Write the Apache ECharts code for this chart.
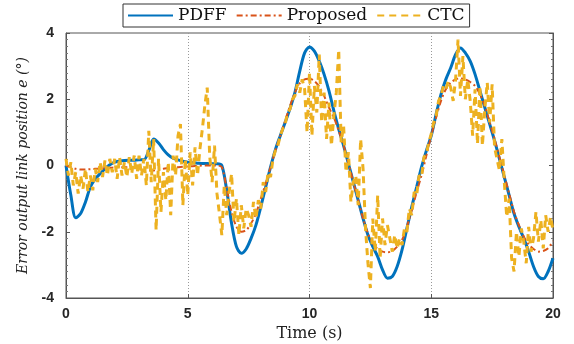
<!DOCTYPE html>
<html>
<head>
<meta charset="utf-8">
<script src="https://cdn.jsdelivr.net/npm/echarts@6/dist/echarts.min.js"></script>
<style>
html, body { margin: 0; padding: 0; background: #fff; }
#chart { width: 574px; height: 344px; }
</style>
</head>
<body>
<div id="chart"></div>
<script>
//图例名称
var seriesNames = ['PDFF', 'Proposed', 'CTC'];
//坐标轴刻度
var xTicks = [0, 5, 10, 15, 20];
var yTicks = [-4, -2, 0, 2, 4];

//PDFF / Proposed 采样间隔 0.2s
var dtSmooth = 0.2;
var pdffValues = [
	0, -0.9, -1.58, -1.45, -1.1, -0.65, -0.4, -0.25, -0.1, 0.02,
	0.1, 0.13, 0.15, 0.16, 0.16, 0.17, 0.17, 0.45, 0.8, 0.68,
	0.48, 0.32, 0.22, 0.17, 0.13, 0.1, 0.08, 0.07, 0.06, 0.06,
	0.05, 0.05, 0.0, -0.75, -1.75, -2.45, -2.65, -2.52, -2.2, -1.8,
	-1.25, -0.65, -0.05, 0.48, 0.9, 1.3, 1.72, 2.2, 2.85, 3.4,
	3.58, 3.45, 3.15, 2.75, 2.25, 1.65, 1.1, 0.6, 0.05, -0.5,
	-1.05, -1.6, -2.1, -2.45, -2.75, -3.15, -3.4, -3.35, -3.05, -2.55,
	-1.9, -1.25, -0.65, -0.05, 0.45, 0.9, 1.55, 2.15, 2.6, 2.95,
	3.35, 3.55, 3.4, 3.15, 2.75, 2.25, 1.75, 1.25, 0.75, 0.2,
	-0.35, -0.9, -1.45, -1.85, -2.2, -2.6, -3.05, -3.35, -3.42, -3.2,
	-2.8
];
var proposedValues = [
	0, -0.05, -0.1, -0.12, -0.12, -0.11, -0.1, -0.09, -0.08, -0.07,
	-0.06, -0.05, -0.05, -0.05, -0.06, -0.08, -0.11, -0.14, -0.15, -0.13,
	-0.1, -0.08, -0.06, -0.05, -0.04, -0.03, -0.02, -0.01, 0, 0,
	0, 0, -0.05, -0.7, -1.4, -1.85, -2.0, -1.95, -1.75, -1.45,
	-1.0, -0.55, -0.05, 0.45, 0.9, 1.35, 1.8, 2.2, 2.48, 2.6,
	2.62, 2.55, 2.38, 2.1, 1.75, 1.45, 1.05, 0.6, 0.07, -0.5,
	-1.05, -1.6, -2.05, -2.35, -2.52, -2.6, -2.62, -2.58, -2.45, -2.25,
	-1.85, -1.35, -0.8, -0.3, 0.3, 0.9, 1.45, 1.95, 2.3, 2.5,
	2.6, 2.63, 2.6, 2.52, 2.4, 2.15, 1.8, 1.3, 0.8, 0.25,
	-0.3, -0.85, -1.4, -1.8, -2.15, -2.38, -2.52, -2.6, -2.58, -2.5,
	-2.28
];

//CTC 采样间隔 0.1s
var dtCtc = 0.1;
var ctcValues = [
	0.2, -0.3, 0.1, -0.6, -0.2, -0.85, -0.3, -0.7, -0.1, -0.8,
	-0.3, -0.75, -0.1, -0.5, 0.1, -0.35, 0.15, -0.3, 0.2, -0.2,
	0.2, -0.4, 0.25, -0.3, 0.1, -0.35, 0.25, -0.25, 0.3, -0.4,
	0.3, -0.3, 0.2, -0.6, 1.05, -0.5, 0.8, -1.95, 0.2, -1.4,
	-0.2, -1.05, 0.1, -1.5, 0.3, -0.3, 0.9, 1.25, -1.2, 0.2,
	-0.9, 0.4, -0.6, 0.55, -0.3, 0.5, 1.1, 1.8, 2.35, 0.3,
	-0.5, 0.6, -0.85, -1.45, -2.1, -0.6, -1.5, -0.8, -0.25, -1.7,
	-1.0, -2.1, -1.2, -1.9, -1.3, -1.5, -1.85, -1.1, -1.6, -1.05,
	-1.3, -0.5, -0.8, -0.2, -0.35, 0.2, 0.45, 0.6, 0.9, 1.1,
	1.25, 1.6, 1.7, 2.0, 2.1, 2.45, 2.2, 2.6, 2.3, 1.0,
	2.8, 0.9, 2.4, 1.6, 3.35, 1.3, 2.2, 0.8, 1.9, 0.6,
	1.5, 2.2, 3.5, 0.7, 1.2, -0.2, 0.4, -1.1, -0.5, -0.3,
	-1.2, 0.8, -0.1, -1.9, -2.95, -3.7, -1.6, -2.6, -0.9, -2.8,
	-1.6, -2.4, -1.8, -2.2, -2.6, -2.1, -2.5, -2.2, -2.4, -1.9,
	-2.0, -1.3, -1.5, -0.8, -0.9, -0.3, -0.35, 0.25, 0.35, 0.7,
	0.95, 1.3, 1.5, 1.95, 2.1, 2.4, 2.3, 2.55, 2.35, 1.95,
	2.6, 3.8, 2.1, 3.3, 2.0, 2.6, 1.95, 0.9, 2.3, 0.65,
	2.4, 0.6, 1.7, 2.5, 1.3, 2.45, 0.55, 0.2, -0.15, 0.8,
	-0.5, -1.55, -1.0, -2.8, -3.2, -2.0, -2.75, -1.9, -2.3, -2.95,
	-1.85, -2.6, -2.2, -1.4, -2.3, -1.65, -2.5, -1.5, -2.0, -1.55,
	-1.95
];

//把数值和时间组合成 [t, v]
var toPairs = function(values, dt) {
	var out = [];
	for(var i = 0; i < values.length; i++) {
		out.push([+(i * dt).toFixed(2), values[i]]);
	}
	return out;
};

var tickFont = {
	fontFamily: 'Liberation Sans',
	fontWeight: 'bold',
	fontSize: 14,
	color: '#262626'
};

var chart = echarts.init(document.getElementById('chart'), null, { renderer: 'canvas' });

var option = {
	animation: false,
	backgroundColor: '#fff',
	grid: {
		left: 66,
		right: 21,
		top: 33,
		bottom: 46,
		show: true,
		borderColor: '#555',
		borderWidth: 1,
		outerBoundsMode: 'none'
	},
	legend: {
		data: seriesNames,
		left: 123,
		top: 4,
		padding: [3, 5, 3, 4],
		itemGap: 9,
		itemWidth: 45,
		itemHeight: 14,
		borderColor: '#333',
		borderWidth: 1,
		backgroundColor: '#fff',
		//图例只画线,不画圆点
		itemStyle: {
			color: 'rgba(0,0,0,0)',
			borderWidth: 0
		},
		textStyle: {
			fontFamily: 'DejaVu Serif',
			fontSize: 17,
			color: '#111'
		}
	},
	xAxis: {
		type: 'value',
		min: xTicks[0],
		max: xTicks[xTicks.length - 1],
		interval: 5,
		name: 'Time (s)',
		nameLocation: 'middle',
		nameGap: 20,
		nameTextStyle: {
			fontFamily: 'DejaVu Serif',
			fontSize: 16,
			color: '#222'
		},
		axisLine: { onZero: false, lineStyle: { color: '#555' } },
		axisTick: { inside: true, length: 4, lineStyle: { color: '#555' } },
		axisLabel: Object.assign({ margin: 9 }, tickFont),
		splitLine: {
			show: true,
			lineStyle: { color: '#999', type: [1, 2], width: 1 }
		}
	},
	yAxis: [{
		type: 'value',
		min: yTicks[0],
		max: yTicks[yTicks.length - 1],
		interval: 2,
		name: 'Error output link position e (°)',
		nameLocation: 'middle',
		nameGap: 36,
		nameTextStyle: {
			fontFamily: 'DejaVu Serif',
			fontStyle: 'italic',
			fontSize: 14,
			color: '#222'
		},
		axisLine: { show: true, onZero: false, lineStyle: { color: '#555' } },
		axisTick: { inside: true, length: 4, lineStyle: { color: '#555' } },
		minorTick: { show: true, splitNumber: 10, length: 2, lineStyle: { color: '#777' } },
		axisLabel: Object.assign({ margin: 12 }, tickFont),
		splitLine: { show: false }
	}, {
		type: 'value',
		position: 'right',
		min: yTicks[0],
		max: yTicks[yTicks.length - 1],
		interval: 2,
		axisLine: { show: true, onZero: false, lineStyle: { color: '#555' } },
		axisTick: { inside: true, length: 4, lineStyle: { color: '#555' } },
		minorTick: { show: true, splitNumber: 10, length: 2, lineStyle: { color: '#777' } },
		axisLabel: { show: false },
		splitLine: { show: false }
	}],
	series: [{
		name: 'PDFF',
		type: 'line',
		showSymbol: false,
		symbol: 'none',
		smooth: 0.3,
		data: toPairs(pdffValues, dtSmooth),
		color: '#0072BD',
		lineStyle: { width: 3, color: '#0072BD' }
	}, {
		name: 'Proposed',
		type: 'line',
		showSymbol: false,
		symbol: 'none',
		smooth: 0.3,
		data: toPairs(proposedValues, dtSmooth),
		color: '#D95319',
		lineStyle: { width: 2, color: '#D95319', type: [6, 3, 2, 3] }
	}, {
		name: 'CTC',
		type: 'line',
		showSymbol: false,
		symbol: 'none',
		data: toPairs(ctcValues, dtCtc),
		color: '#EDB120',
		lineStyle: { width: 3, color: '#EDB120', type: [7, 5] }
	}]
};

chart.setOption(option);
</script>
</body>
</html>
